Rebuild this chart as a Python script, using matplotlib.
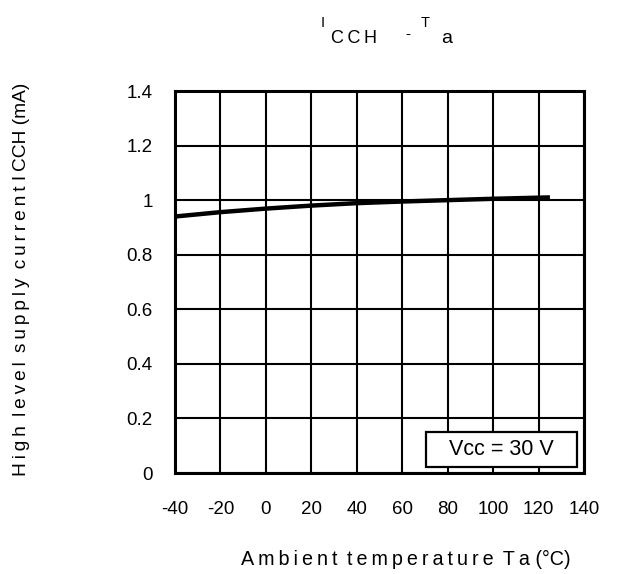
import matplotlib.pyplot as plt
from matplotlib.patches import Rectangle

plt.rcParams['font.family'] = ['Liberation Sans', 'DejaVu Sans']

# ambient temperature (degC) and high level supply current (mA), Vcc = 30 V
temp = [-40, -20, 0, 20, 40, 60, 80, 100, 120, 125]
icch = [0.94, 0.956, 0.969, 0.980, 0.989, 0.995, 1.0, 1.005, 1.009, 1.01]

xticks = [-40, -20, 0, 20, 40, 60, 80, 100, 120, 140]
xlabels = ['-40', '-20', '0', '20', '40', '60', '80', '100', '120', '140']
yticks = [0, 0.2, 0.4, 0.6, 0.8, 1.0, 1.2, 1.4]
ylabels = ['0', '0.2', '0.4', '0.6', '0.8', '1', '1.2', '1.4']

W, H = 617, 574


def px(x, y):
    # pixel position -> figure fraction
    return x / W, 1 - y / H


def spaced(s):
    # wide letter spacing like the datasheet
    words = s.split(' ')
    return '\u2009 '.join('\u2009'.join(w) for w in words)


fig = plt.figure(figsize=(W / 100, H / 100), dpi=100)
ax = fig.add_axes([175 / W, 1 - 473 / H, (584 - 175) / W, (473 - 91) / H])

ax.plot(temp, icch, color='black', lw=3.2, solid_capstyle='butt', zorder=3)

ax.set_xlim(-40, 140)
ax.set_ylim(0, 1.4)
ax.set_xticks(xticks)
ax.set_xticklabels(xlabels)
ax.set_yticks(yticks)
ax.set_yticklabels(ylabels)
ax.grid(True, color='black', lw=1.5)
ax.tick_params(length=0, labelsize=13.5)
ax.tick_params(axis='x', pad=20)
ax.tick_params(axis='y', pad=16)
for s in ax.spines.values():
    s.set_linewidth(2.2)

# condition box
ax.add_patch(Rectangle((70.5, 0.022), 66.4, 0.128, fc='white', ec='black',
                       lw=1.6, zorder=5))
ax.text(103.7, 0.086, 'Vcc = 30 V', fontsize=15.5, ha='center', va='center',
        zorder=6)

# title  I_CCH - T_a
fig.text(*px(321, 27), 'I', fontsize=10.5, ha='left', va='baseline')
fig.text(*px(331, 43), 'C\u2009C\u2009H', fontsize=13, ha='left', va='baseline')
fig.text(*px(405, 38), '-', fontsize=11, ha='left', va='baseline')
fig.text(*px(421, 27), 'T', fontsize=10.5, ha='left', va='baseline')
fig.text(*px(441, 43), 'a', fontsize=14, ha='left', va='baseline')

fig.text(*px(406, 559), spaced('Ambient temperature Ta') + ' (°C)',
         fontsize=14.2, ha='center', va='center')

fig.text(*px(22, 279), spaced('High level supply current') + ' I\u2009CCH (mA)',
         fontsize=13.8, ha='center', va='center', rotation=90)

fig.savefig('out.png', dpi=100)
